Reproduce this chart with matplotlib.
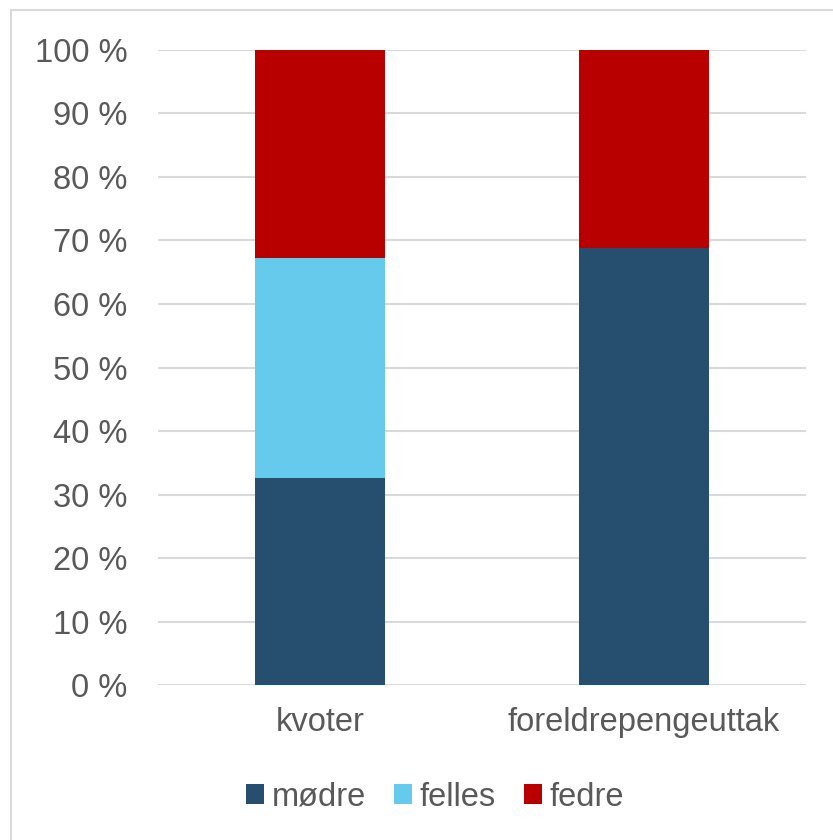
import matplotlib.pyplot as plt
from matplotlib.patches import Rectangle
from matplotlib.ticker import FuncFormatter, MultipleLocator

plt.rcParams['font.family'] = ['Liberation Sans', 'DejaVu Sans']

categories = ['kvoter', 'foreldrepengeuttak']
series = ['mødre', 'felles', 'fedre']
modre = [32.6, 68.8]
felles = [34.6, 0.0]
fedre = [32.8, 31.2]
colors = ['#264e6e', '#66caec', '#b90000']

text_color = '#595959'

fig = plt.figure(figsize=(8.33, 8.4), dpi=100)
ax = fig.add_axes([0.1897, 0.1845, 0.7779, 0.756])

# outer frame of the chart area
fig.patches.append(Rectangle((11 / 833, -0.05), 1.0, 1.05 - 10 / 840, transform=fig.transFigure,
                             fill=False, edgecolor='#d9d9d9', linewidth=1.5))

x = range(len(categories))
bottom = [0.0] * len(categories)
for name, vals, c in zip(series, [modre, felles, fedre], colors):
    ax.bar(x, vals, 0.4, bottom=bottom, color=c, label=name, zorder=3)
    bottom = [b + v for b, v in zip(bottom, vals)]

ax.set_xlim(-0.5, 1.5)
ax.set_ylim(0, 100)
ax.yaxis.set_major_locator(MultipleLocator(10))
ax.yaxis.set_major_formatter(FuncFormatter(lambda v, p: f'{v:.0f} %'))
ax.grid(axis='y', color='#d9d9d9', linewidth=1.5, zorder=0)
ax.set_xticks(list(x))
ax.set_xticklabels(categories)
ax.tick_params(axis='both', length=0, labelsize=23.5, colors=text_color)
ax.tick_params(axis='y', pad=22)
ax.tick_params(axis='x', pad=16)
for s in ax.spines.values():
    s.set_visible(False)

ax.legend(loc='center', bbox_to_anchor=(435 / 833, 43 / 840), bbox_transform=fig.transFigure,
          ncol=3, frameon=False, fontsize=23.5, labelcolor=text_color,
          handlelength=0.55, handleheight=0.55, handletextpad=0.25, columnspacing=0.85)

fig.savefig('out.png', dpi=100)
